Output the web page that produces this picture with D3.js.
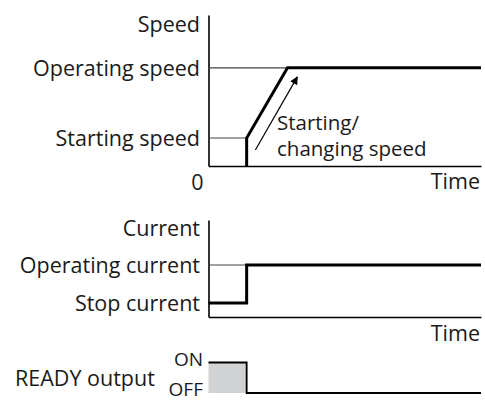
<!DOCTYPE html>
<html>
<head>
<meta charset="utf-8">
<script src="https://cdn.jsdelivr.net/npm/d3@7"></script>
<style>
  html, body { margin: 0; padding: 0; background: #fff; }
  svg text { font-family: "Open Sans", "Noto Sans", sans-serif; fill: #1a1a1a; }
</style>
</head>
<body>
<svg id="chart" width="485" height="401"></svg>
<script>
// ---- data ----
const timeDomain = [0, 100];
const speedLevelNames = ["Starting speed", "Operating speed"];
const speedLevels = [18.5, 65];
const speedProfileT = [14, 14, 29, 100];
const speedProfileV = [0, 18.5, 65, 65];
const speedRefEndT = [14, 29];            // thin guide lines end (time) for each level
const arrowT = [17.2, 32.6];              // annotation arrow tail/tip times
const arrowV = [10.6, 59];                // annotation arrow tail/tip speeds
const annotationLines = ["Starting/", "changing speed"];

const currentLevelNames = ["Stop current", "Operating current"];
const currentLevels = [14.4, 53.6];
const currentProfileT = [0, 14, 14, 100];
const currentProfileV = [14.4, 14.4, 53.6, 53.6];
const currentRefEndT = [0, 14];

const readyStateNames = ["OFF", "ON"];
const readyProfileT = [0, 14, 14, 100];
const readyProfileV = [1, 1, 0, 0];

const axisTitles = ["Speed", "Current"];
const xTitle = "Time";
const readyTitle = "READY output";

// ---- layout ----
const svg = d3.select("#chart");
const x = d3.scaleLinear().domain(timeDomain).range([208.5, 481]);
const ySpeed = d3.scaleLinear().domain([0, 100]).range([166, 15]);
const yCur = d3.scaleLinear().domain([0, 100]).range([317, 220]);
const yReady = d3.scaleLinear().domain([0, 1]).range([393, 362.5]);
const FS = 21.5;

function panel(y, levels, names, title, titleBaseline) {
  const g = svg.append("g");
  const ax = g.append("g").attr("transform", `translate(${x(0)},0)`)
    .call(d3.axisLeft(y).tickValues(levels).tickFormat((d, i) => names[i])
      .tickSize(0).tickSizeOuter(0).tickPadding(8.5));
  ax.select(".domain").attr("stroke", "#000").attr("stroke-width", 1.6);
  ax.selectAll(".tick text").attr("font-size", FS).attr("font-family", null)
    .attr("fill", "#1a1a1a").attr("dy", "0.36em");
  const bx = g.append("g").attr("transform", `translate(0,${y(0)})`)
    .call(d3.axisBottom(x).tickValues([]).tickSizeOuter(0));
  bx.select(".domain").attr("stroke", "#000").attr("stroke-width", 1.6);
  g.append("text").attr("x", x(0) - 8.5).attr("y", titleBaseline)
    .attr("text-anchor", "end").attr("font-size", FS).text(title);
  return g;
}

// ---- speed panel ----
const gS = panel(ySpeed, speedLevels, speedLevelNames, axisTitles[0], 32);
gS.selectAll("line.ref").data(speedLevels).join("line").attr("class", "ref")
  .attr("x1", x(0)).attr("x2", (d, i) => x(speedRefEndT[i]))
  .attr("y1", d => ySpeed(d)).attr("y2", d => ySpeed(d))
  .attr("stroke", "#444").attr("stroke-width", 1.1);
gS.append("path")
  .attr("d", d3.line().x(d => x(d[0])).y(d => ySpeed(d[1]))(d3.zip(speedProfileT, speedProfileV)))
  .attr("fill", "none").attr("stroke", "#000").attr("stroke-width", 3).attr("stroke-linejoin", "miter");
svg.append("defs").append("marker").attr("id", "ah")
  .attr("viewBox", "0 0 10 10").attr("refX", 9).attr("refY", 5)
  .attr("markerWidth", 10).attr("markerHeight", 8).attr("markerUnits", "userSpaceOnUse")
  .attr("orient", "auto")
  .append("path").attr("d", "M0,0L10,5L0,10Z").attr("fill", "#000");
gS.append("line")
  .attr("x1", x(arrowT[0])).attr("y1", ySpeed(arrowV[0]))
  .attr("x2", x(arrowT[1])).attr("y2", ySpeed(arrowV[1]))
  .attr("stroke", "#000").attr("stroke-width", 1.2).attr("marker-end", "url(#ah)");
gS.selectAll("text.ann").data(annotationLines).join("text").attr("class", "ann")
  .attr("x", 277).attr("y", (d, i) => 130 + i * 26).attr("font-size", 20.5).text(d => d);
svg.append("text").attr("x", 203.5).attr("y", 190).attr("text-anchor", "end")
  .attr("font-size", FS).text("0");
svg.append("text").attr("x", 480).attr("y", 189).attr("text-anchor", "end")
  .attr("font-size", FS).text(xTitle);

// ---- current panel ----
const gC = panel(yCur, currentLevels, currentLevelNames, axisTitles[1], 236);
gC.selectAll("line.ref").data(currentLevels).join("line").attr("class", "ref")
  .attr("x1", x(0)).attr("x2", (d, i) => x(currentRefEndT[i]))
  .attr("y1", d => yCur(d)).attr("y2", d => yCur(d))
  .attr("stroke", "#444").attr("stroke-width", 1.1);
gC.append("path")
  .attr("d", d3.line().x(d => x(d[0])).y(d => yCur(d[1]))(d3.zip(currentProfileT, currentProfileV)))
  .attr("fill", "none").attr("stroke", "#000").attr("stroke-width", 3);
svg.append("text").attr("x", 480).attr("y", 341).attr("text-anchor", "end")
  .attr("font-size", FS).text(xTitle);

// ---- READY panel ----
const readyPts = d3.zip(readyProfileT, readyProfileV);
svg.append("path")
  .attr("d", d3.area().x(d => x(d[0])).y0(yReady(0)).y1(d => yReady(d[1]))(readyPts.slice(0, 2)))
  .attr("fill", "#d1d2d4");
svg.append("path")
  .attr("d", d3.line().x(d => x(d[0])).y(d => yReady(d[1]))(readyPts))
  .attr("fill", "none").attr("stroke", "#000").attr("stroke-width", 1.8);
svg.selectAll("text.state").data(readyStateNames).join("text").attr("class", "state")
  .attr("x", 203).attr("y", (d, i) => i === 1 ? 366 : 395.5)
  .attr("text-anchor", "end").attr("font-size", 19).text(d => d);
svg.append("text").attr("x", 15).attr("y", 386).attr("font-size", FS).text(readyTitle);
</script>
</body>
</html>
